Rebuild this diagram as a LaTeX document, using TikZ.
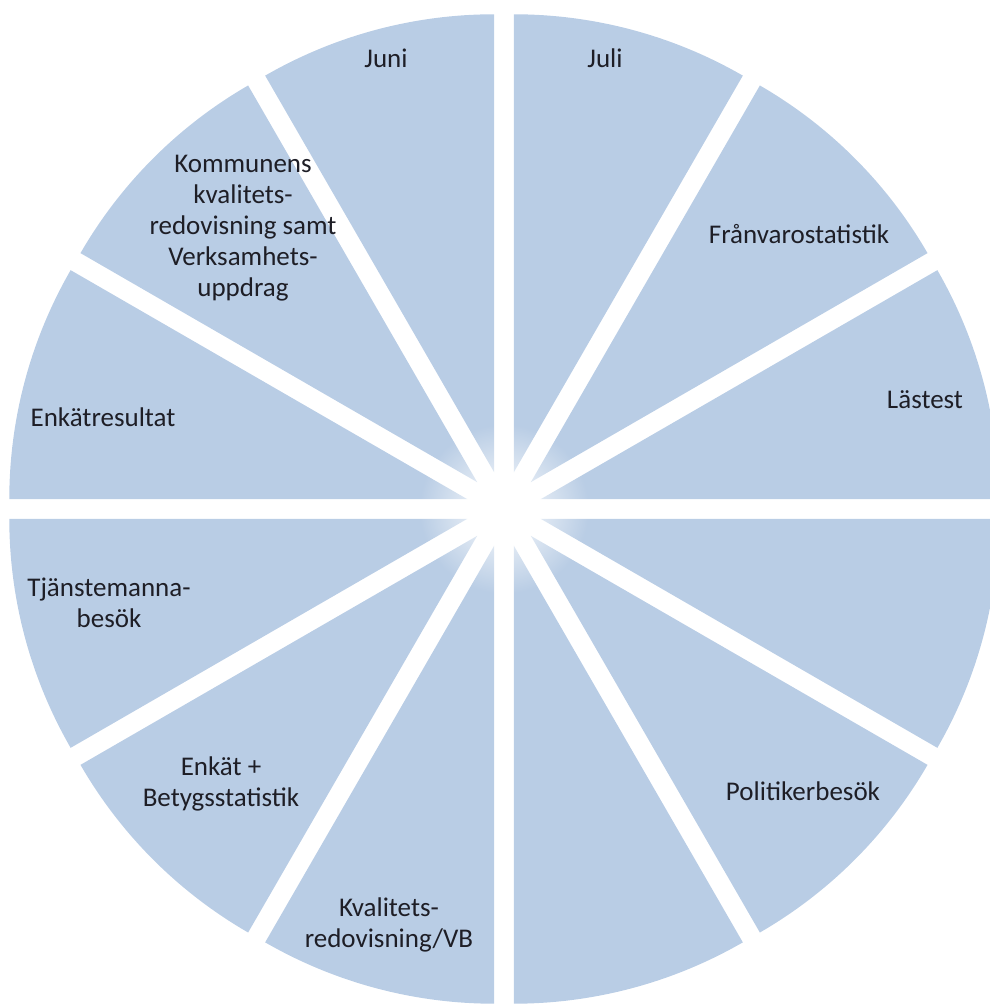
\documentclass[tikz,border=0pt]{standalone}
\usepackage{fontspec}
\setmainfont{Carlito}
\usetikzlibrary{fadings,calc}
\definecolor{slice}{RGB}{185,205,229}
\definecolor{txt}{RGB}{30,30,38}
\tikzfading[name=fuzzycirc, inner color=transparent!0, outer color=transparent!100]
\tikzset{
  lbl/.style={align=center, text=txt, font=\fontsize{27}{31}\selectfont, inner sep=0pt},
}
\newcommand{\mysector}[1]{%
  \pgfmathsetmacro{\mid}{#1+15}%
  \fill[slice] ($(C)+(\mid:38)$) -- ++(#1:458) arc[start angle=#1, end angle=#1+30, radius=458] -- cycle;%
}
\begin{document}
\begin{tikzpicture}[x=1pt,y=1pt]
\useasboundingbox (0,0) rectangle (990,1007);
\coordinate (C) at (504,498);
\foreach \a in {0,30,...,330} {\mysector{\a}}
\fill[white, path fading=fuzzycirc] (C) circle[radius=85];
\node[lbl] (juni) at (386,949) {Juni};
\node[lbl] (juli) at (605,949) {Juli};
\node[lbl] (komm) at (243,779) {Kommunens\\kvalitets-\\redovisning samt\\Verksamhets-\\uppdrag};
\node[lbl] (franvaro) at (799,773) {Frånvarostatistik};
\node[lbl] (enkatres) at (103,590) {Enkätresultat};
\node[lbl] (lastest) at (925,607) {Lästest};
\node[lbl] (tjanst) at (109,404) {Tjänstemanna-\\besök};
\node[lbl] (enkatbet) at (221,223) {Enkät +\\Betygsstatistik};
\node[lbl] (politik) at (803,216) {Politikerbesök};
\node[lbl] (kval) at (389,82) {Kvalitets-\\redovisning/VB};
\end{tikzpicture}
\end{document}
